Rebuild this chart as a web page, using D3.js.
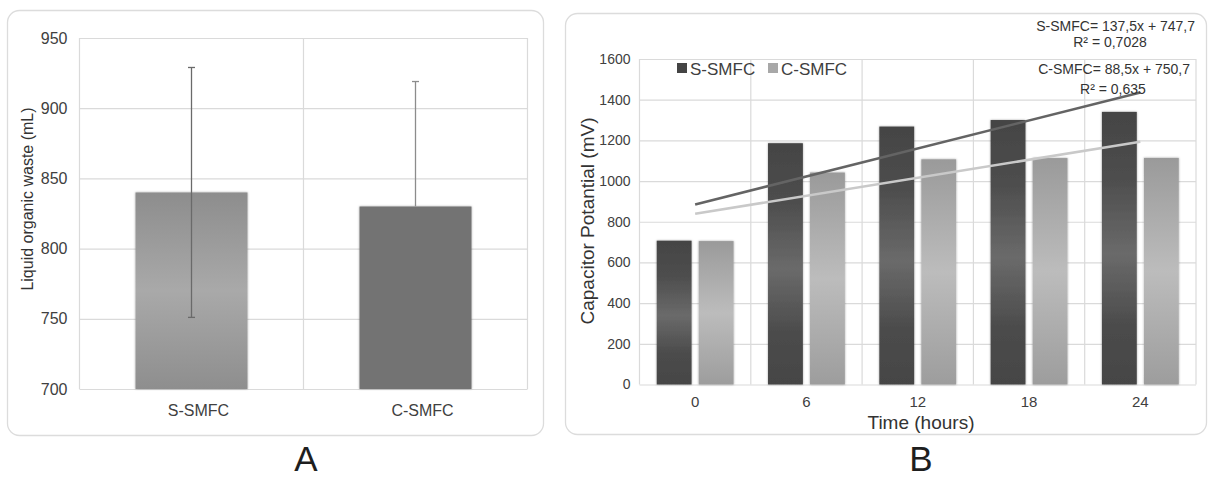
<!DOCTYPE html>
<html>
<head>
<meta charset="utf-8">
<script src="https://cdn.jsdelivr.net/npm/d3@7"></script>
<style>
  html, body { margin: 0; padding: 0; background: #ffffff; }
  svg { display: block; }
  text { font-family: "Liberation Sans", Arial, sans-serif; }
</style>
</head>
<body>
<svg id="chart" width="1208" height="479"></svg>
<script>
// ---- Panel A: liquid organic waste per system ----
const aCategories = ["S-SMFC", "C-SMFC"];
const aValues = [840, 830];
const aErrUp = [89, 89];
const aErrDown = [89, 0];
const aTicks = [700, 750, 800, 850, 900, 950];

// ---- Panel B: capacitor potential over time ----
const bTimes = ["0", "6", "12", "18", "24"];
const bSeries = ["S-SMFC", "C-SMFC"];
const bSValues = [707, 1186, 1268, 1300, 1340];
const bCValues = [705, 1042, 1107, 1113, 1114];
const bTicks = [0, 200, 400, 600, 800, 1000, 1200, 1400, 1600];
const trendSlopes = [137.5, 88.5];
const trendIntercepts = [747.7, 750.7];
const trendEquations = ["S-SMFC= 137,5x + 747,7", "C-SMFC= 88,5x + 750,7"];
const trendR2 = ["R² = 0,7028", "R² = 0,635"];

const svg = d3.select("#chart");
const defs = svg.append("defs");

// soft edge around bars
const shadow = defs.append("filter").attr("id", "barShadow")
  .attr("x", "-20%").attr("y", "-5%").attr("width", "140%").attr("height", "110%");
shadow.append("feDropShadow").attr("dx", 0).attr("dy", 0)
  .attr("stdDeviation", 1.3).attr("flood-color", "#000").attr("flood-opacity", 0.35);

function vGradient(id, stops) {
  const g = defs.append("linearGradient").attr("id", id)
    .attr("x1", 0).attr("y1", 0).attr("x2", 0).attr("y2", 1);
  stops.forEach(([o, c]) => g.append("stop").attr("offset", o).attr("stop-color", c));
}
vGradient("gradA", [[0, "#8d8d8d"], [0.5, "#a9a9a9"], [1, "#8e8e8e"]]);
vGradient("gradS", [[0, "#444444"], [0.25, "#4e4e4e"], [0.52, "#6a6a6a"], [0.78, "#4c4c4c"], [1, "#454545"]]);
vGradient("gradC", [[0, "#9a9a9a"], [0.5, "#bcbcbc"], [1, "#9d9d9d"]]);

const gridColor = "#dadada";
const tickColor = "#404040";

// ================= Panel A =================
const gA = svg.append("g");
gA.append("rect").attr("x", 7.5).attr("y", 10.5).attr("width", 536).attr("height", 425)
  .attr("rx", 12).attr("fill", "#fff").attr("stroke", "#dcdcdc").attr("stroke-width", 1.3);

const xA = d3.scaleBand().domain(aCategories).range([79.5, 527.5]).paddingInner(0.5).paddingOuter(0.25);
const yA = d3.scaleLinear().domain([700, 950]).range([389, 38]);

// horizontal gridlines + tick labels via axis
const axA = gA.append("g").attr("transform", "translate(79.5,0)")
  .call(d3.axisLeft(yA).tickValues(aTicks).tickSize(-448).tickPadding(12).tickFormat(d3.format("d")));
axA.select(".domain").remove();
axA.selectAll(".tick line").attr("stroke", gridColor).attr("stroke-width", 1.2);
axA.selectAll(".tick text").attr("fill", tickColor).attr("font-size", 16)
  .attr("font-family", "'Liberation Sans', Arial, sans-serif");

// vertical gridlines at category boundaries
const aBounds = [xA.range()[0], (xA.range()[0] + xA.range()[1]) / 2, xA.range()[1]];
gA.selectAll(".vgrid").data(aBounds).join("line")
  .attr("x1", d => d).attr("x2", d => d).attr("y1", yA(950)).attr("y2", yA(700))
  .attr("stroke", gridColor).attr("stroke-width", 1.2);

gA.selectAll(".barA").data(aCategories).join("rect")
  .attr("x", d => xA(d)).attr("width", xA.bandwidth())
  .attr("y", (d, i) => yA(aValues[i])).attr("height", (d, i) => yA(700) - yA(aValues[i]))
  .attr("fill", (d, i) => i === 0 ? "url(#gradA)" : "#737373")
  .attr("filter", "url(#barShadow)");

// error bars
const errColors = ["#6a6a6a", "#8c8c8c"];
aCategories.forEach((c, i) => {
  const cx = xA(c) + xA.bandwidth() / 2;
  const top = yA(aValues[i] + aErrUp[i]);
  const bot = yA(aValues[i] - aErrDown[i]);
  gA.append("line").attr("x1", cx).attr("x2", cx).attr("y1", top).attr("y2", bot)
    .attr("stroke", errColors[i]).attr("stroke-width", 1.3);
  gA.append("line").attr("x1", cx - 3.5).attr("x2", cx + 3.5).attr("y1", top).attr("y2", top)
    .attr("stroke", errColors[i]).attr("stroke-width", 1.3);
  if (aErrDown[i] > 0) {
    gA.append("line").attr("x1", cx - 3.5).attr("x2", cx + 3.5).attr("y1", bot).attr("y2", bot)
      .attr("stroke", errColors[i]).attr("stroke-width", 1.3);
  }
});

gA.selectAll(".catA").data(aCategories).join("text")
  .attr("x", d => xA(d) + xA.bandwidth() / 2 + 7).attr("y", 416)
  .attr("text-anchor", "middle").attr("font-size", 16).attr("fill", tickColor)
  .text(d => d);

gA.append("text").attr("transform", "translate(27,199) rotate(-90)")
  .attr("dy", "0.35em").attr("text-anchor", "middle").attr("font-size", 16).attr("fill", "#333")
  .text("Liquid organic waste (mL)");

gA.append("text").attr("x", 306).attr("y", 471).attr("text-anchor", "middle")
  .attr("font-size", 35).attr("fill", "#1e1e1e").text("A");

// ================= Panel B =================
const gB = svg.append("g");
gB.append("rect").attr("x", 565.5).attr("y", 13.5).attr("width", 641).attr("height", 421)
  .attr("rx", 12).attr("fill", "#fff").attr("stroke", "#dcdcdc").attr("stroke-width", 1.3);

const xB = d3.scaleBand().domain(bTimes).range([639.5, 1196]);
const xSub = d3.scaleBand().domain(bSeries).range([0, xB.bandwidth()]).paddingInner(0.17).paddingOuter(0.41);
const yB = d3.scaleLinear().domain([0, 1600]).range([384.5, 59]);

const axB = gB.append("g").attr("transform", "translate(639.5,0)")
  .call(d3.axisLeft(yB).tickValues(bTicks).tickSize(-556.5).tickPadding(9).tickFormat(d3.format("d")));
axB.select(".domain").remove();
axB.selectAll(".tick line").attr("stroke", gridColor).attr("stroke-width", 1.2);
axB.selectAll(".tick text").attr("fill", tickColor).attr("font-size", 14)
  .attr("font-family", "'Liberation Sans', Arial, sans-serif");

const bBounds = bTimes.map(t => xB(t)).concat([xB.range()[1]]);
gB.selectAll(".vgridB").data(bBounds).join("line")
  .attr("x1", d => d).attr("x2", d => d).attr("y1", yB(1600)).attr("y2", yB(0))
  .attr("stroke", gridColor).attr("stroke-width", 1.2);

const bData = [bSValues, bCValues];
const bFills = ["url(#gradS)", "url(#gradC)"];
bSeries.forEach((s, si) => {
  gB.selectAll(".bar" + si).data(bTimes).join("rect")
    .attr("x", d => xB(d) + xSub(s)).attr("width", xSub.bandwidth())
    .attr("y", (d, i) => yB(bData[si][i])).attr("height", (d, i) => yB(0) - yB(bData[si][i]))
    .attr("fill", bFills[si]).attr("filter", "url(#barShadow)");
});

// linear trendlines from the fitted equations (x = 1..n over the time categories)
const trendColors = ["#646464", "#c9c9c9"];
trendSlopes.forEach((m, k) => {
  const pts = [1, bTimes.length].map(n => [
    xB(bTimes[n - 1]) + xB.bandwidth() / 2,
    yB(m * n + trendIntercepts[k])
  ]);
  gB.append("path").attr("d", d3.line()(pts))
    .attr("stroke", trendColors[k]).attr("stroke-width", 2.6).attr("fill", "none");
});

// x tick labels
const axBx = gB.append("g").attr("transform", `translate(0,${yB(0)})`)
  .call(d3.axisBottom(xB).tickSize(0).tickPadding(12));
axBx.select(".domain").remove();
axBx.selectAll(".tick text").attr("fill", tickColor).attr("font-size", 15)
  .attr("font-family", "'Liberation Sans', Arial, sans-serif");

// legend
const legendFills = ["#444444", "#a8a8a8"];
const legendX = [677, 768];
bSeries.forEach((s, i) => {
  gB.append("rect").attr("x", legendX[i]).attr("y", 63).attr("width", 10).attr("height", 10)
    .attr("fill", legendFills[i]);
  gB.append("text").attr("x", legendX[i] + 13).attr("y", 74.5)
    .attr("font-family", "Lato, 'Noto Sans', sans-serif").attr("font-size", 17)
    .attr("fill", tickColor).text(s);
});

// trendline equations
const eqRight = [1195, 1190];
const eqBase = [31, 74];
const r2Center = [1110, 1113];
const r2Base = [46.5, 94];
trendEquations.forEach((t, i) => {
  gB.append("text").attr("x", eqRight[i]).attr("y", eqBase[i]).attr("text-anchor", "end")
    .attr("font-size", 14).attr("fill", "#333").text(t);
  gB.append("text").attr("x", r2Center[i]).attr("y", r2Base[i]).attr("text-anchor", "middle")
    .attr("font-size", 14).attr("fill", "#333").text(trendR2[i]);
});

gB.append("text").attr("x", 921).attr("y", 429).attr("text-anchor", "middle")
  .attr("font-size", 19).attr("fill", "#333").text("Time (hours)");

gB.append("text").attr("transform", "translate(587,221) rotate(-90)")
  .attr("dy", "0.35em").attr("text-anchor", "middle").attr("font-size", 19).attr("fill", "#333")
  .text("Capacitor Potantial (mV)");

gB.append("text").attr("x", 921).attr("y", 471).attr("text-anchor", "middle")
  .attr("font-size", 35).attr("fill", "#1e1e1e").text("B");
</script>
</body>
</html>
